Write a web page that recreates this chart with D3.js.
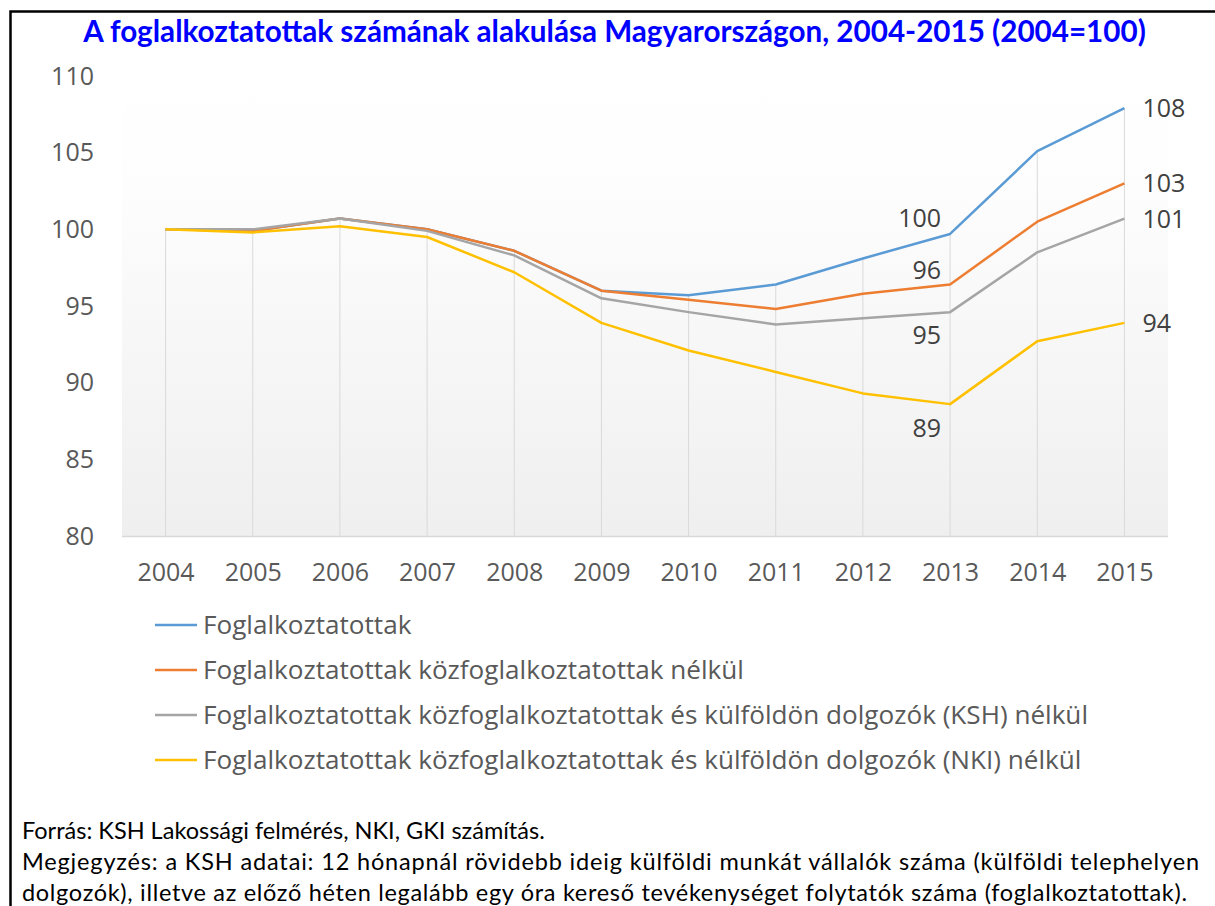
<!DOCTYPE html>
<html>
<head>
<meta charset="utf-8">
<script src="https://cdn.jsdelivr.net/npm/d3@7"></script>
<style>
  html, body { margin: 0; padding: 0; background: #fff; overflow: hidden; }
  svg { display: block; }
</style>
</head>
<body>
<svg id="chart" width="1215" height="906"></svg>
<script>
// ---------- DATA ----------
const years = ["2004","2005","2006","2007","2008","2009","2010","2011","2012","2013","2014","2015"];
const foglalkoztatottak = [100, 99.9, 100.7, 100.0, 98.6, 96.0, 95.7, 96.4, 98.1, 99.7, 105.1, 107.9];
const kozfogNelkul      = [100, 99.9, 100.7, 100.0, 98.6, 96.0, 95.4, 94.8, 95.8, 96.4, 100.5, 103.0];
const kshNelkul         = [100, 100.0, 100.7, 99.9, 98.3, 95.5, 94.6, 93.8, 94.2, 94.6, 98.5, 100.7];
const nkiNelkul         = [100, 99.8, 100.2, 99.5, 97.2, 93.9, 92.1, 90.7, 89.3, 88.6, 92.7, 93.9];
const seriesNames = [
  "Foglalkoztatottak",
  "Foglalkoztatottak közfoglalkoztatottak nélkül",
  "Foglalkoztatottak közfoglalkoztatottak és külföldön dolgozók (KSH) nélkül",
  "Foglalkoztatottak közfoglalkoztatottak és külföldön dolgozók (NKI) nélkül"
];
const yTicks = [80, 85, 90, 95, 100, 105, 110];
const labelYears = ["2013", "2015"];
const titleText = "A foglalkoztatottak számának alakulása Magyarországon, 2004-2015 (2004=100)";
const footerLines = [
  "Forrás: KSH Lakossági felmérés, NKI, GKI számítás.",
  "Megjegyzés: a KSH adatai: 12 hónapnál rövidebb ideig külföldi munkát vállalók száma (külföldi telephelyen",
  "dolgozók), illetve az előző héten legalább egy óra kereső tevékenységet folytatók száma (foglalkoztatottak)."
];

// ---------- STYLE / LAYOUT ----------
const colors = ["#5b9bd5", "#ed7d31", "#a5a5a5", "#ffc000"];
const allSeries = [foglalkoztatottak, kozfogNelkul, kshNelkul, nkiNelkul];
// label placement at 2013 (left of point, above/below) and 2015 (right of point)
const label2013Dy = [-16, -15, 23, 24];

const plot = { left: 122, right: 1168, top: 76, bottom: 536 };
const svg = d3.select("#chart");

function fit(sel, target) {
  const w = sel.node().getComputedTextLength();
  const fs = parseFloat(sel.attr("font-size"));
  sel.attr("font-size", (fs * target / w).toFixed(2));
}

// Border
svg.append("rect").attr("x", 10.5).attr("y", 11.5).attr("width", 1260).attr("height", 1000)
  .attr("fill", "none").attr("stroke", "#000").attr("stroke-width", 2.5);

// Title
const title = svg.append("text").attr("x", 614.5).attr("y", 42)
  .attr("text-anchor", "middle").attr("font-family", "Lato").attr("font-weight", "bold")
  .attr("font-size", 27).attr("fill", "#0000ff").text(titleText);
fit(title, 1063);

// Scales
const x = d3.scalePoint().domain(years).range([plot.left, plot.right]).padding(0.5);
const y = d3.scaleLinear().domain([80, 110]).range([plot.bottom, plot.top]);

// Plot area gradient
const defs = svg.append("defs");
const grad = defs.append("linearGradient").attr("id", "pa").attr("x1", 0).attr("y1", 0).attr("x2", 0).attr("y2", 1);
grad.append("stop").attr("offset", "0%").attr("stop-color", "#ffffff");
grad.append("stop").attr("offset", "25%").attr("stop-color", "#fdfdfd");
grad.append("stop").attr("offset", "100%").attr("stop-color", "#efefef");
svg.append("rect").attr("x", plot.left).attr("y", plot.top)
  .attr("width", plot.right - plot.left).attr("height", plot.bottom - plot.top)
  .attr("fill", "url(#pa)");

// Drop lines
svg.append("g").selectAll("line").data(years).join("line")
  .attr("x1", d => x(d)).attr("x2", d => x(d))
  .attr("y1", (d, i) => y(d3.max(allSeries, s => s[i])))
  .attr("y2", y(80))
  .attr("stroke", "#d9d9d9").attr("stroke-width", 1);

// Axes
const fontAxis = "Open Sans";
const xAxis = svg.append("g").attr("transform", `translate(0,${plot.bottom})`)
  .call(d3.axisBottom(x).tickSize(0).tickSizeOuter(0).tickPadding(27));
xAxis.select(".domain").attr("stroke", "#d9d9d9").attr("stroke-width", 1.5)
  .attr("d", `M${plot.left},0.5H${plot.right}`);
xAxis.selectAll("text").attr("font-family", fontAxis).attr("font-size", 25).attr("fill", "#595959");

const yAxis = svg.append("g").attr("transform", `translate(${plot.left},0)`)
  .call(d3.axisLeft(y).tickValues(yTicks).tickSize(0).tickPadding(28));
yAxis.select(".domain").remove();
yAxis.selectAll("text").attr("font-family", fontAxis).attr("font-size", 25).attr("fill", "#595959");

// Lines
const line = d3.line().x((d, i) => x(years[i])).y(d => y(d));
svg.append("g").selectAll("path").data(allSeries).join("path")
  .attr("d", line).attr("fill", "none")
  .attr("stroke", (d, i) => colors[i]).attr("stroke-width", 2.5)
  .attr("stroke-linejoin", "round");

// Data labels
const fmt = d3.format(".0f");
allSeries.forEach((s, si) => {
  labelYears.forEach(yr => {
    const i = years.indexOf(yr);
    const isLast = yr === "2015";
    svg.append("text")
      .attr("x", isLast ? x(yr) + 18 : x(yr) - 9)
      .attr("y", y(s[i]) + (isLast ? 0 : label2013Dy[si]))
      .attr("dy", "0.36em")
      .attr("text-anchor", isLast ? "start" : "end")
      .attr("font-family", fontAxis).attr("font-size", 25).attr("fill", "#404040")
      .text(fmt(s[i]));
  });
});

// Legend
const legendY = [625, 670, 715, 760];
const lg = svg.append("g");
seriesNames.forEach((name, i) => {
  lg.append("line").attr("x1", 155).attr("x2", 197).attr("y1", legendY[i]).attr("y2", legendY[i])
    .attr("stroke", colors[i]).attr("stroke-width", 2.5);
});
const legTexts = lg.selectAll("text").data(seriesNames).join("text")
  .attr("x", 203).attr("y", (d, i) => legendY[i]).attr("dy", "0.36em")
  .attr("font-family", fontAxis).attr("font-size", 22).attr("fill", "#595959")
  .text(d => d);
{
  const longest = legTexts.filter((d, i) => i === 2);
  const w = longest.node().getComputedTextLength();
  const fs = 22 * 885 / w;
  legTexts.attr("font-size", fs.toFixed(2));
}

// Footer
const fBase = [839, 870, 901];
const f0 = svg.append("text").attr("x", 22).attr("y", fBase[0])
  .attr("font-family", "Lato").attr("font-size", 21).attr("fill", "#000").text(footerLines[0]);
fit(f0, 523);
const ffs = f0.attr("font-size");
svg.append("text").attr("x", 22).attr("y", fBase[1])
  .attr("font-family", "Lato").attr("font-size", ffs).attr("fill", "#000")
  .attr("textLength", 1177).attr("lengthAdjust", "spacing").text(footerLines[1]);
svg.append("text").attr("x", 22).attr("y", fBase[2])
  .attr("font-family", "Lato").attr("font-size", ffs).attr("fill", "#000")
  .attr("textLength", 1165).attr("lengthAdjust", "spacing").text(footerLines[2]);
</script>
</body>
</html>
